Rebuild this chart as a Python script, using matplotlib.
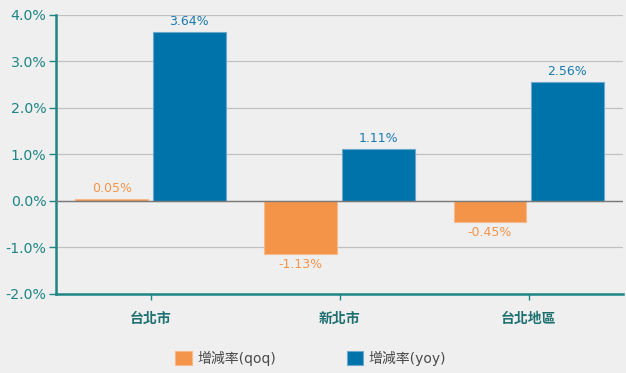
import matplotlib
matplotlib.use("Agg")
import matplotlib.pyplot as plt
from matplotlib.ticker import FuncFormatter
import numpy as np

# data
categories = ["台北市", "新北市", "台北地區"]
qoq = [0.05, -1.13, -0.45]
yoy = [3.64, 1.11, 2.56]
series_names = ["增減率(qoq)", "增減率(yoy)"]

plt.rcParams['font.family'] = ['DejaVu Sans', 'Noto Sans CJK TC']

bg = "#efefef"
teal = "#1e8585"
orange = "#f39449"
blue = "#0073aa"

fig = plt.figure(figsize=(6.26, 3.73), dpi=100, facecolor=bg)
ax = fig.add_axes([0.0895, 0.2118, 0.906, 0.748])
ax.set_facecolor(bg)

x = np.arange(len(categories))
w = 0.385
off = 0.205
b1 = ax.bar(x - off, qoq, w, color=orange, edgecolor="#f7b98a", linewidth=0.8, label=series_names[0], zorder=3)
b2 = ax.bar(x + off, yoy, w, color=blue, edgecolor="#6aa9cc", linewidth=0.8, label=series_names[1], zorder=3)

for rect, v in zip(b1, qoq):
    cx = rect.get_x() + rect.get_width() / 2
    if v >= 0:
        ax.annotate(f"{v:.2f}%", (cx, v), xytext=(0, 3), textcoords="offset points",
                    ha="center", va="bottom", color=orange, fontsize=9)
    else:
        ax.annotate(f"{v:.2f}%", (cx, v), xytext=(0, -3), textcoords="offset points",
                    ha="center", va="top", color=orange, fontsize=9)
for rect, v in zip(b2, yoy):
    cx = rect.get_x() + rect.get_width() / 2
    ax.annotate(f"{v:.2f}%", (cx, v), xytext=(0, 3), textcoords="offset points",
                ha="center", va="bottom", color="#1a7ab0", fontsize=9)

ax.set_xlim(-0.5, 2.5)
ax.set_ylim(-2.0, 4.0)
ax.set_yticks(np.arange(-2, 4.1, 1))
ax.yaxis.set_major_formatter(FuncFormatter(lambda v, p: f"{v:.1f}%"))
ax.set_xticks(x)
ax.set_xticklabels(categories, fontweight="bold")

ax.grid(axis="y", color="#c0c0c0", linewidth=0.9, zorder=0)
ax.axhline(0, color="#7a7a7a", linewidth=1, zorder=4)

for s in ["top", "right"]:
    ax.spines[s].set_visible(False)
for s in ["left", "bottom"]:
    ax.spines[s].set_color(teal)
    ax.spines[s].set_linewidth(1.8)

ax.tick_params(axis="y", colors=teal, labelsize=10.2, length=5, width=1, pad=2)
ax.tick_params(axis="x", colors=teal, labelsize=10, length=4, width=1, pad=9)
for lbl in ax.get_xticklabels():
    lbl.set_color("#1e7070")

fig.legend(handles=[b1, b2], labels=series_names, loc="center left",
           bbox_to_anchor=(175 / 626, 1 - 358 / 373), ncol=2, frameon=False, fontsize=10,
           handlelength=1.22, handleheight=1.15, handletextpad=0.36, columnspacing=5.1,
           borderpad=0, borderaxespad=0, labelcolor="#4a4a4a")

fig.savefig("out.png", dpi=100, facecolor=bg)
